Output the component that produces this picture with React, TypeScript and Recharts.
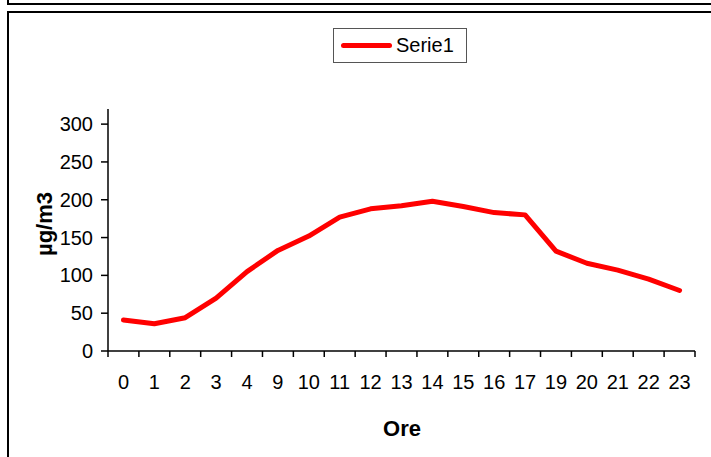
import { LineChart, Line, XAxis, YAxis } from "recharts";

const hours = ["0", "1", "2", "3", "4", "9", "10", "11", "12", "13", "14", "15", "16", "17", "19", "20", "21", "22", "23"];
const serie1 = [41, 36, 44, 70, 105, 133, 152, 177, 188, 192, 198, 191, 183, 180, 132, 116, 107, 95, 80];
const yTicks = [0, 50, 100, 150, 200, 250, 300];

const SERIES_NAME = "Serie1";
const RED = "#ff0000";
const FONT = "'Liberation Sans', Arial, sans-serif";

// each category sits in the middle of its slot, slot edges carry the tick marks
const rows = hours.map((h, i) => ({ hour: h, pos: i + 0.5, value: serie1[i] }));
const edgeTicks = hours.map((_, i) => i).concat(hours.length);
const centerTicks = rows.map((r) => r.pos);

export default function App() {
  return (
    <div
      style={{
        position: "absolute",
        left: 0,
        top: 0,
        width: 711,
        height: 457,
        background: "#fff",
        overflow: "hidden",
        fontFamily: FONT,
      }}
    >
      <div
        style={{
          position: "absolute",
          left: 7,
          top: -20,
          width: 720,
          height: 25,
          boxSizing: "border-box",
          border: "2px solid #000",
        }}
      />
      <div
        style={{
          position: "absolute",
          left: 7,
          top: 11,
          width: 720,
          height: 470,
          boxSizing: "border-box",
          border: "2px solid #000",
        }}
      />

      <div style={{ position: "absolute", left: 0, top: 0 }}>
        <LineChart width={711} height={457} data={rows} margin={{ top: 109, right: 16, left: 68, bottom: 65 }}>
          <XAxis
            xAxisId="edges"
            type="number"
            dataKey="pos"
            domain={[0, hours.length]}
            ticks={edgeTicks}
            interval={0}
            tickFormatter={() => ""}
            height={1}
            tickSize={6}
            axisLine={{ stroke: "#000", strokeWidth: 1.5 }}
            tickLine={{ stroke: "#000", strokeWidth: 1.5 }}
          />
          <XAxis
            xAxisId="hours"
            type="number"
            dataKey="pos"
            domain={[0, hours.length]}
            ticks={centerTicks}
            interval={0}
            tickFormatter={(v: number) => hours[Math.floor(v)]}
            height={40}
            axisLine={false}
            tickLine={false}
            tickSize={6}
            tickMargin={17}
            tick={{ fill: "#000", fontSize: 20, fontFamily: FONT }}
          />
          <YAxis
            type="number"
            domain={[0, 320]}
            ticks={yTicks}
            interval={0}
            width={40}
            tickSize={7}
            tickMargin={8}
            axisLine={{ stroke: "#000", strokeWidth: 1.5 }}
            tickLine={{ stroke: "#000", strokeWidth: 1.5 }}
            tick={{ fill: "#000", fontSize: 20, fontFamily: FONT }}
          />
          <Line
            xAxisId="hours"
            type="linear"
            dataKey="value"
            name={SERIES_NAME}
            stroke={RED}
            strokeWidth={5}
            strokeLinejoin="round"
            strokeLinecap="round"
            dot={false}
            activeDot={false}
            isAnimationActive={false}
          />
        </LineChart>
      </div>

      {/* legend box */}
      <div
        style={{
          position: "absolute",
          left: 333,
          top: 28,
          width: 134,
          height: 35,
          boxSizing: "border-box",
          border: "1px solid #555",
          display: "flex",
          alignItems: "center",
          paddingLeft: 7,
        }}
      >
        <div style={{ width: 51, height: 5, borderRadius: 3, background: RED, marginRight: 4 }} />
        <span style={{ fontSize: 20, color: "#000" }}>{SERIES_NAME}</span>
      </div>

      {/* axis titles */}
      <div
        style={{
          position: "absolute",
          left: 45,
          top: 224,
          transform: "translate(-50%, -50%) rotate(-90deg)",
          fontSize: 22,
          fontWeight: "bold",
          whiteSpace: "nowrap",
          color: "#000",
        }}
      >
        µg/m3
      </div>
      <div
        style={{
          position: "absolute",
          left: 402,
          top: 429,
          transform: "translate(-50%, -50%)",
          fontSize: 22,
          fontWeight: "bold",
          color: "#000",
        }}
      >
        Ore
      </div>
    </div>
  );
}
